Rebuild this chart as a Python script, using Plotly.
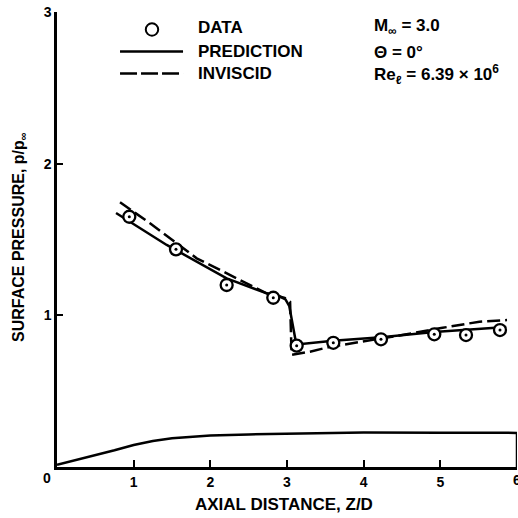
import plotly.graph_objects as go

# Measured surface pressure
data_z = [0.943, 1.552, 2.213, 2.821, 3.126, 3.604, 4.226, 4.921, 5.335, 5.778]
data_p = [1.650, 1.435, 1.200, 1.116, 0.800, 0.819, 0.842, 0.875, 0.870, 0.903]

# Viscous prediction
pred_z = [0.77, 1.431, 2.213, 2.735, 2.909, 2.98, 3.03, 3.07, 3.11, 3.16, 3.60, 4.23, 4.92, 5.86]
pred_p = [1.675, 1.464, 1.244, 1.145, 1.124, 1.105, 1.06, 0.94, 0.84, 0.81, 0.833, 0.855, 0.89, 0.923]

# Inviscid solution
inv_z = [0.822, 1.213, 1.822, 2.169, 2.45, 2.735, 2.97, 3.04, 3.06, 3.30, 3.54, 3.97, 4.50, 5.03, 5.51, 5.87]
inv_p = [1.745, 1.607, 1.376, 1.288, 1.22, 1.145, 1.115, 1.09, 0.74, 0.76, 0.79, 0.825, 0.87, 0.918, 0.958, 0.969]

# Body contour (radius profile)
body_z = [0, 0.25, 0.5, 0.75, 1.0, 1.25, 1.5, 1.75, 2.0, 2.5, 3.0, 3.5, 4.0, 5.0, 6.0, 6.0]
body_r = [0.015, 0.045, 0.075, 0.11, 0.145, 0.172, 0.19, 0.2, 0.207, 0.215, 0.22, 0.225, 0.227, 0.226, 0.225, 0.0]

x_ticks = [1, 2, 3, 4, 5, 6]
y_ticks = [1, 2, 3]

FONT = "Liberation Sans"
INK = "black"

fig = go.Figure()

fig.add_trace(go.Scatter(x=body_z, y=body_r, mode="lines",
                         line=dict(color=INK, width=2.5), hoverinfo="skip"))
fig.add_trace(go.Scatter(x=inv_z, y=inv_p, mode="lines",
                         line=dict(color=INK, width=2.5, dash="13px,5px")))
fig.add_trace(go.Scatter(x=pred_z, y=pred_p, mode="lines",
                         line=dict(color=INK, width=2.5)))
fig.add_trace(go.Scatter(x=data_z, y=data_p, mode="markers",
                         marker=dict(symbol="circle", size=12, color="white",
                                     line=dict(color=INK, width=2.3))))
fig.add_trace(go.Scatter(x=data_z, y=data_p, mode="markers",
                         marker=dict(symbol="circle", size=3, color=INK)))

# Key in the upper left
fig.add_shape(type="circle", xref="paper", yref="paper",
              x0=0.2065 - 0.0135, x1=0.2065 + 0.0135,
              y0=0.9615 - 0.0136, y1=0.9615 + 0.0136,
              line=dict(color=INK, width=2), fillcolor="white")
fig.add_shape(type="line", xref="paper", yref="paper",
              x0=0.137, x1=0.274, y0=0.913, y1=0.913,
              line=dict(color=INK, width=2.5))
fig.add_shape(type="line", xref="paper", yref="paper",
              x0=0.137, x1=0.274, y0=0.865, y1=0.865,
              line=dict(color=INK, width=2.5, dash="17px,4px"))

lab_font = dict(family=FONT, size=17, color=INK, weight="bold")
for txt, yp in [("DATA", 0.966), ("PREDICTION", 0.914), ("INVISCID", 0.864)]:
    fig.add_annotation(text=txt, xref="paper", yref="paper", x=0.302, y=yp,
                       xanchor="left", yanchor="middle", showarrow=False, font=lab_font)

cond_font = dict(family=FONT, size=17, color=INK, weight="bold")
for txt, yp in [("M<sub>∞</sub> = 3.0", 0.968), ("Θ = 0°", 0.912),
                ("Re<sub>ℓ</sub> = 6.39 × 10<sup>6</sup>", 0.862)]:
    fig.add_annotation(text=txt, xref="paper", yref="paper", x=0.684, y=yp,
                       xanchor="left", yanchor="middle", showarrow=False, font=cond_font)

# Axis titles, shared origin label and the edge label at Z/D = 6
fig.add_annotation(text="AXIAL DISTANCE, Z/D", xref="paper", yref="paper",
                   x=0.4935, y=-0.0835, xanchor="center", yanchor="middle",
                   showarrow=False, font=dict(family=FONT, size=17, color=INK, weight="bold"))
fig.add_annotation(text="SURFACE PRESSURE, p/p<sub>∞</sub>", xref="paper", yref="paper",
                   x=-0.0804, y=0.5055, xanchor="center", yanchor="middle", textangle=-90,
                   showarrow=False, font=dict(family=FONT, size=16, color=INK, weight="bold"))
fig.add_annotation(text="0", xref="paper", yref="paper", x=-0.0228, y=-0.0242,
                   xanchor="center", yanchor="middle", showarrow=False,
                   font=dict(family=FONT, size=14, color=INK, weight="bold"))
fig.add_annotation(text=str(x_ticks[-1]), xref="x", yref="paper", x=x_ticks[-1], y=-0.0285,
                   xanchor="center", yanchor="middle", showarrow=False,
                   font=dict(family=FONT, size=14, color=INK, weight="bold"))

tick_font = dict(family=FONT, size=14, color=INK, weight="bold")
fig.update_layout(
    width=518, height=518,
    margin=dict(l=57, r=1, t=12, b=51),
    paper_bgcolor="white", plot_bgcolor="white",
    showlegend=False,
    xaxis=dict(range=[0, 6], showgrid=False, zeroline=False,
               showline=True, linecolor=INK, linewidth=2.5,
               ticks="inside", ticklen=7, tickwidth=2, tickcolor=INK,
               tickvals=x_ticks[:-1], ticktext=[str(v) for v in x_ticks[:-1]],
               tickfont=tick_font),
    yaxis=dict(range=[0, 3], showgrid=False, zeroline=False,
               showline=True, linecolor=INK, linewidth=2.5,
               ticks="inside", ticklen=6, tickwidth=2, tickcolor=INK,
               tickvals=y_ticks, ticktext=[str(v) for v in y_ticks],
               tickfont=tick_font),
)

fig.write_html("out.html")
